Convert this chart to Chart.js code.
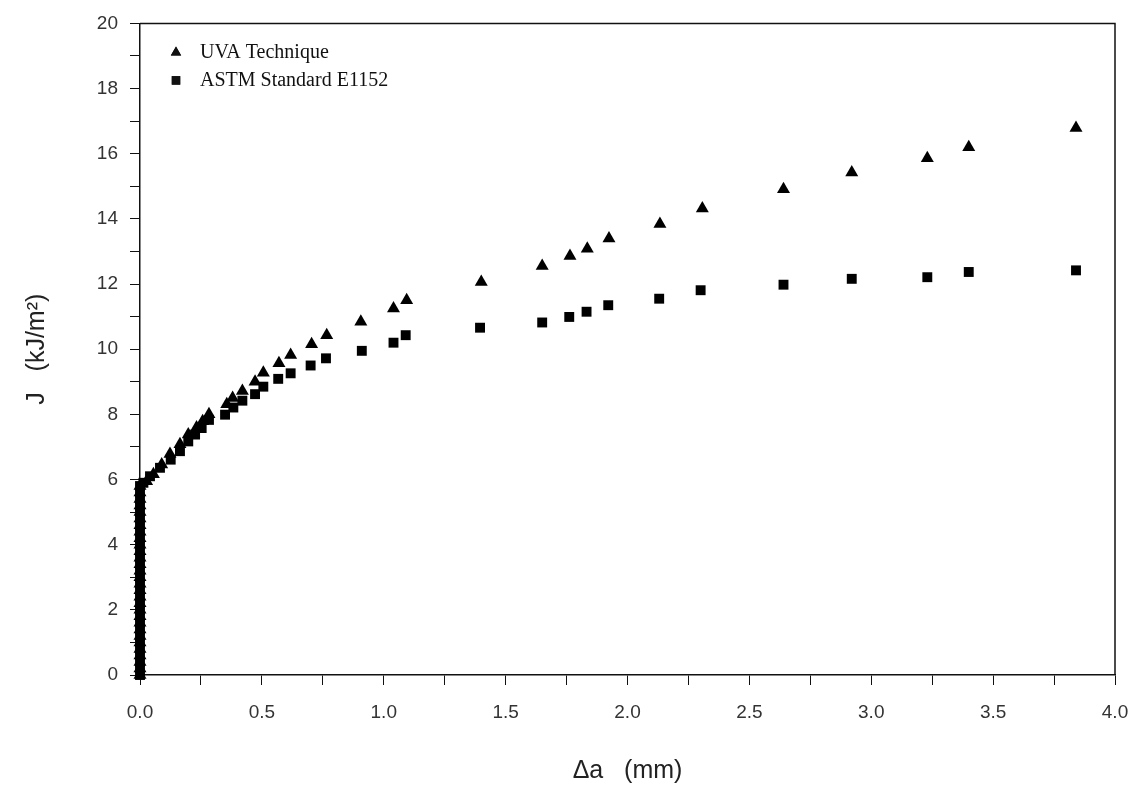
<!DOCTYPE html>
<html>
<head>
<meta charset="utf-8">
<title>J-R curve</title>
<script src="https://cdn.jsdelivr.net/npm/chart.js@4.4.0/dist/chart.umd.min.js"></script>
<style>
  html, body { margin: 0; padding: 0; background: #fff; }
  #wrap { width: 1148px; height: 804px; }
</style>
</head>
<body>
<div id="wrap"><canvas id="jrChart" width="1148" height="804"></canvas></div>
<script>
// crack extension (mm) and J (kJ/m^2)
const uvaX = [0, 0, 0, 0, 0, 0, 0, 0, 0, 0, 0, 0, 0, 0, 0, 0, 0, 0, 0, 0, 0, 0, 0, 0, 0, 0, 0, 0, 0, 0,
  0.027, 0.055, 0.089, 0.123, 0.164, 0.198, 0.232, 0.257, 0.283, 0.356, 0.380, 0.420, 0.472, 0.506,
  0.570, 0.618, 0.704, 0.766, 0.906, 1.04, 1.094, 1.40, 1.65, 1.764, 1.835, 1.924, 2.133, 2.307,
  2.64, 2.92, 3.23, 3.40, 3.84];
const uvaJ = [0, 0.2, 0.4, 0.6, 0.8, 1.0, 1.2, 1.4, 1.6, 1.8, 2.0, 2.2, 2.4, 2.6, 2.8, 3.0, 3.2, 3.4, 3.6, 3.8,
  4.0, 4.2, 4.4, 4.6, 4.8, 5.0, 5.2, 5.4, 5.6, 5.8,
  5.95, 6.16, 6.46, 6.78, 7.08, 7.38, 7.60, 7.79, 8.00, 8.31, 8.50, 8.72, 9.00, 9.28,
  9.57, 9.82, 10.15, 10.43, 10.84, 11.25, 11.50, 12.06, 12.55, 12.86, 13.08, 13.40, 13.84, 14.32,
  14.91, 15.42, 15.86, 16.20, 16.79];

const astmX = [0, 0, 0, 0, 0, 0, 0, 0, 0, 0, 0, 0, 0, 0, 0, 0, 0, 0, 0, 0, 0, 0, 0, 0, 0, 0, 0, 0, 0, 0,
  0.014, 0.041, 0.082, 0.126, 0.164, 0.198, 0.226, 0.253, 0.283, 0.349, 0.383, 0.420, 0.472, 0.506,
  0.567, 0.618, 0.700, 0.763, 0.910, 1.04, 1.09, 1.395, 1.65, 1.761, 1.832, 1.921, 2.13, 2.30,
  2.64, 2.92, 3.23, 3.40, 3.84];
const astmJ = [0, 0.2, 0.4, 0.6, 0.8, 1.0, 1.2, 1.4, 1.6, 1.8, 2.0, 2.2, 2.4, 2.6, 2.8, 3.0, 3.2, 3.4, 3.6, 3.8,
  4.0, 4.2, 4.4, 4.6, 4.8, 5.0, 5.2, 5.4, 5.6, 5.8,
  5.90, 6.10, 6.36, 6.61, 6.87, 7.17, 7.38, 7.58, 7.83, 7.99, 8.21, 8.42, 8.62, 8.85,
  9.09, 9.26, 9.50, 9.72, 9.95, 10.20, 10.43, 10.66, 10.82, 10.99, 11.15, 11.35, 11.55, 11.81,
  11.98, 12.16, 12.21, 12.37, 12.42];

const seriesNames = ['UVA Technique', 'ASTM Standard E1152'];

const toPoints = (xs, ys) => xs.map((x, i) => ({ x: x, y: ys[i] }));

// box around the plot plus the legend inside the top-left corner
const frameAndLegend = {
  id: 'frameAndLegend',
  afterDatasetsDraw(chart) {
    const { ctx, chartArea: a } = chart;
    ctx.save();
    ctx.strokeStyle = '#111';
    ctx.lineWidth = 1.5;
    ctx.beginPath();
    ctx.moveTo(a.left, a.top);
    ctx.lineTo(a.right, a.top);
    ctx.lineTo(a.right, a.bottom);
    ctx.stroke();

    ctx.font = '20px "Liberation Serif", serif';
    ctx.textBaseline = 'middle';
    ctx.fillStyle = '#111';
    chart.data.datasets.forEach((ds, i) => {
      const y = a.top + 29 + i * 28;
      const x = a.left + 36;
      Chart.helpers.drawPoint(ctx, {
        pointStyle: ds.pointStyle,
        radius: 6,
        borderWidth: 0
      }, x, y);
      ctx.fill();
      ctx.fillText(ds.label, x + 24, y);
    });
    ctx.restore();
  }
};

const tickFont = { family: '"Liberation Sans", sans-serif', size: 19 };

new Chart(document.getElementById('jrChart').getContext('2d'), {
  type: 'scatter',
  data: {
    datasets: [
      {
        label: seriesNames[0],
        data: toPoints(uvaX, uvaJ),
        pointStyle: 'triangle',
        pointRadius: 7.5,
        backgroundColor: '#000',
        borderColor: '#000',
        borderWidth: 0,
        clip: false
      },
      {
        label: seriesNames[1],
        data: toPoints(astmX, astmJ),
        pointStyle: 'rect',
        pointRadius: 7,
        backgroundColor: '#000',
        borderColor: '#000',
        borderWidth: 0,
        clip: false
      }
    ]
  },
  options: {
    responsive: false,
    animation: false,
    layout: { padding: { left: 12, right: 33, top: 20, bottom: 10 } },
    plugins: {
      legend: { display: false },
      tooltip: { enabled: false }
    },
    scales: {
      x: {
        type: 'linear',
        min: 0,
        max: 4,
        afterFit(scale) { scale.height = 119; },
        ticks: {
          stepSize: 0.25,
          padding: 16,
          color: '#333',
          font: tickFont,
          callback: v => (Math.round(v * 100) % 50 === 0 ? v.toFixed(1) : '')
        },
        grid: { drawOnChartArea: false, tickLength: 10, color: '#111' },
        border: { color: '#111', width: 1.5 },
        title: {
          display: true,
          text: 'Δa   (mm)',
          color: '#222',
          font: { family: '"Liberation Sans", sans-serif', size: 25 },
          padding: { top: 0, bottom: 8 }
        }
      },
      y: {
        min: 0,
        max: 20,
        afterFit(scale) { scale.width = 128; },
        ticks: {
          stepSize: 1,
          padding: 12,
          color: '#333',
          font: tickFont,
          callback: v => (v % 2 === 0 ? String(v) : '')
        },
        grid: { drawOnChartArea: false, tickLength: 10, color: '#111' },
        border: { color: '#111', width: 1.5 },
        title: {
          display: true,
          text: 'J   (kJ/m²)',
          color: '#222',
          font: { family: '"Liberation Sans", sans-serif', size: 25 },
          padding: { top: 10, bottom: 0 }
        }
      }
    }
  },
  plugins: [frameAndLegend]
});
</script>
</body>
</html>
